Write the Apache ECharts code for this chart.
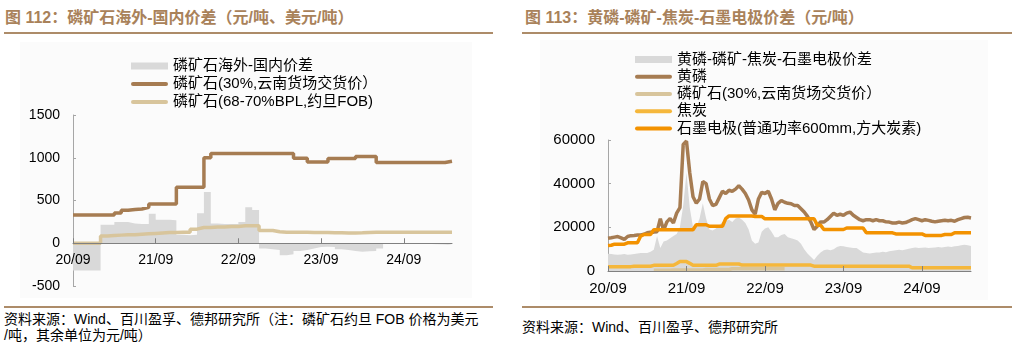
<!doctype html>
<html>
<head>
	<meta charset="UTF-8">
	<title>磷矿石价差</title>
	<script src="https://cdn.jsdelivr.net/npm/echarts@6/dist/echarts.min.js"></script>
	<style>
		body {
			margin: 0;
			width: 1018px;
			height: 354px;
			position: relative;
			overflow: hidden;
			background: #fff;
			font-family: "Liberation Sans", "Noto Sans CJK SC", sans-serif;
		}
		.title {
			position: absolute;
			top: 7px;
			font-size: 16px;
			line-height: 22px;
			font-weight: bold;
			color: #a9825a;
			white-space: nowrap;
		}
		.rule {
			position: absolute;
			height: 2px;
			background: #ad8c69;
		}
		.box {
			position: absolute;
			background: #fbfbfb;
		}
		.chart {
			position: absolute;
			top: 38px;
			height: 265px;
		}
		.note {
			position: absolute;
			font-size: 14px;
			line-height: 16px;
			color: #000;
			white-space: nowrap;
		}
	</style>
</head>
<body>
<!-- 左图 -->
<div class="title" style="left:5px">图 112：磷矿石海外-国内价差（元/吨、美元/吨）</div>
<div class="rule" style="left:4px;width:489px;top:32px"></div>
<div class="box" style="left:20px;top:42px;width:452px;height:256px"></div>
<div class="chart" id="chartL" style="left:0;width:500px"></div>
<div class="rule" style="left:4px;width:489px;top:306px"></div>
<div class="note" style="left:4px;top:311px">资料来源：Wind、百川盈孚、德邦研究所（注：磷矿石约旦 FOB 价格为美元<br>/吨，其余单位为元/吨）</div>

<!-- 右图 -->
<div class="title" style="left:525px">图 113：黄磷-磷矿-焦炭-石墨电极价差（元/吨）</div>
<div class="rule" style="left:522px;width:490px;top:32px"></div>
<div class="box" style="left:540px;top:40px;width:448px;height:260px"></div>
<div class="chart" id="chartR" style="left:505px;width:513px"></div>
<div class="rule" style="left:522px;width:490px;top:306px"></div>
<div class="note" style="left:522px;top:319px">资料来源：Wind、百川盈孚、德邦研究所</div>

<script>
	// 类目：左图按月，右图按半月（2020-09 ~ 2025-04）
	var months = [];
	var halfMonths = [];
	for (var k = 0; k < 56; k++) {
		var y = 2020 + Math.floor((8 + k) / 12);
		var m = (8 + k) % 12 + 1;
		var s = y + '-' + (m < 10 ? '0' + m : m);
		months.push(s);
		halfMonths.push(s + '-01', s + '-16');
	}

	// 左图数据
	var spreadL = [-320, -320, -320, -320, 215, 215,
		250, 250, 230, 225, 225, 345,
		275, 275, 270, 100, 95, 100,
		350, 600, 230, 225, 225, 225,
		250, 420, 390, -60, -70, -80,
		-140, -130, -90, -80, -60, -45,
		-40, -45, -70, -80, -90, -100,
		-95, -90, -60, -10, -8, -8,
		-10, -8, -10, -10, -12, -15,
		-20, -22];
	var oreYunnan = [330, 330, 330, 330, 330, 330,
		355, 385, 395, 400, 420, 460,
		460, 460, 460, 655, 655, 655,
		655, 1000, 1050, 1050, 1050, 1050,
		1050, 1050, 1050, 1050, 1050, 1050,
		1050, 1050, 995, 995, 950, 950,
		950, 990, 990, 990, 990, 1015,
		1015, 1015, 945, 945, 945, 945,
		945, 945, 945, 945, 945, 945,
		960, 965];
	var oreJordan = [0, 0, 0, 0, 85, 90,
		95, 100, 100, 105, 110, 115,
		120, 125, 125, 130, 130, 165,
		185, 185, 190, 190, 195, 195,
		205, 205, 205, 150, 150, 135,
		130, 130, 130, 128, 125, 125,
		125, 122, 122, 120, 120, 122,
		125, 128, 130, 130, 130, 130,
		130, 130, 128, 128, 128, 128,
		128, 128];

	// 右图数据
	var spreadR = [7900, 7800, 7600, 7500, 7600, 7800, 7500, 7600, 7800, 8000, 8200, 8300,
		8300, 8800, 9700, 16000, 10500, 13500, 14000, 15000, 16000, 17000, 20000, 30000,
		45000, 29000, 20000, 20000, 24000, 31000, 24000, 19000, 18500, 19500, 21000, 22400,
		23000, 23500, 22500, 24000, 24500, 23500, 22000, 19000, 14000, 12500, 13000, 18000,
		19500, 20000, 18000, 15500, 15500, 16500, 17000, 15500, 15000, 14500, 14000, 12500,
		10000, 8000, 6500, 5000, 7000, 8500, 9500, 9800, 9500, 10000, 11000, 11500,
		11300, 11000, 10800, 10500, 10500, 9500, 8500, 8200, 8000, 8300, 8500, 8500,
		8800, 8600, 9000, 9300, 9500, 9700, 9500, 9800, 10200, 10500, 10800, 10500,
		10700, 10800, 10500, 10600, 10800, 11000, 10800, 11000, 11200, 11000, 11300, 11500,
		11800, 12000, 11800, 11500];
	var yellowP = [15000, 15200, 15500, 15800, 15200, 14500, 15800, 16200, 16300, 16500, 16500, 16800,
		17500, 17800, 17800, 18000, 24000, 18600, 22500, 24000, 22000, 26500, 29000, 58000,
		59500, 45000, 34000, 31000, 33000, 41000, 40000, 33000, 30000, 30500, 33500, 36500,
		35500, 37000, 36500, 37500, 39000, 37500, 35500, 32500, 28000, 26000, 33000, 36000,
		35500, 36500, 33000, 28000, 31000, 32300, 31500, 31000, 30800, 30000, 30000, 28500,
		27000, 25000, 22500, 19000, 20500, 22500, 22400, 23500, 25000, 26500, 25500, 26000,
		25500, 26500, 27000, 25500, 24500, 23500, 23000, 23500, 23500, 23000, 23500, 23000,
		23000, 22500, 22400, 22000, 22000, 22400, 22000, 22200, 22800, 23500, 24000, 23500,
		23000, 23500, 23200, 22800, 22500, 22800, 23000, 23200, 23000, 23200, 22800, 23500,
		24000, 24500, 24600, 24300];
	var oreR = [null, null, null, null, null, null, null, null, null, null, null, null,
		null, null, 385, 385, 395, 395, 400, 400, 420, 420, 460, 460,
		460, 460, 460, 460, 460, 460, 655, 655, 655, 655, 655, 655,
		655, 655, 1000, 1050, 1050, 1050, 1050, 1050, 1050, 1050, 1050, 1050,
		1050, 1050, 1050, 1050, 1050, 1050, 1050, null, null, null, null, null,
		null, null, null, null, null, null, null, null, null, null, null, null,
		null, null, null, null, null, null, null, null, null, null, null, null,
		null, null, null, null, null, null, null, null, null, null, null, null,
		null, null, null, null, null, null, null, null, null, null, null, null,
		null, null, null, null];
	var coke = [2000, 2000, 2000, 2000, 2000, 2000, 2000, 2000, 2200, 2200, 2200, 2200,
		2200, 2200, 2600, 2600, 2600, 2600, 2600, 2600, 2600, 3400, 4300, 4300,
		4300, 3500, 2600, 2600, 2600, 2600, 2600, 2600, 2600, 2600, 3200, 3200,
		3200, 3200, 3200, 3200, 3200, 2700, 2700, 2700, 2700, 2700, 2700, 2700,
		2700, 2700, 2700, 2700, 2700, 2700, 2700, 2700, 2700, 2700, 2700, 2700,
		2700, 2700, 2700, 2200, 2200, 2200, 2200, 2200, 2200, 2200, 2200, 2200,
		2200, 2200, 2200, 2200, 2200, 2200, 2200, 2200, 2200, 2200, 2200, 2200,
		2200, 2200, 2200, 2200, 2200, 2200, 2200, 2200, 2200, 1500, 1500, 1500,
		1500, 1500, 1500, 1500, 1500, 1500, 1500, 1500, 1500, 1500, 1500, 1500,
		1500, 1500, 1500, 1500];
	var graphite = [11700, 11800, 12300, 12300, 12300, 12300, 12900, 12900, 12900, 12900, 16000, 16700,
		16700, 16700, 18900, 18900, 18900, 18900, 18900, 18900, 18900, 18900, 18900, 18900,
		18900, 18900, 18900, 21200, 21200, 21200, 21200, 20500, 20500, 20500, 20500, 20500,
		24000, 25200, 25200, 25200, 25200, 25200, 25200, 25200, 25200, 25000, 25000, 25000,
		23900, 23900, 23900, 23900, 23900, 23900, 23900, 23900, 23900, 23900, 23900, 23900,
		23900, 23900, 23900, 23900, 21000, 21000, 19000, 19000, 19000, 19000, 19000, 19000,
		19000, 19700, 19700, 19700, 19700, 19700, 19700, 17500, 17500, 17500, 17500, 17500,
		17500, 17500, 17500, 17500, 17000, 17000, 17000, 17000, 17000, 17000, 17000, 17000,
		17000, 16300, 16300, 16300, 16300, 16300, 16300, 16700, 16700, 16700, 17500, 17500,
		17500, 17500, 17500, 17500];

	var FONT = '"Liberation Sans", "Noto Sans CJK SC", sans-serif';
	var BROWN = '#a67c52', TAN = '#d8c59c', GRAY = '#d9d9d9';
	// 图例里的线形图标（圆头粗线）
	var LINE_ICON = 'path://M2,0 H35 A2,2 0 0 1 35,4 H2 A2,2 0 0 1 2,0 Z';

	function ymLabel(v) {
		return v.slice(2, 4) + '/' + v.slice(5, 7);
	}
	function plain(v) {
		return String(v);
	}

	// 左图
	var chartL = echarts.init(document.getElementById('chartL'));
	chartL.setOption({
		animation: false,
		legend: {
			orient: 'vertical',
			left: 126,
			top: 14,
			itemWidth: 37,
			itemHeight: 7,
			itemGap: 0,
			textStyle: {fontFamily: FONT, fontSize: 15, color: '#000', lineHeight: 18},
			data: [
				{name: '磷矿石海外-国内价差', icon: 'rect'},
				{name: '磷矿石(30%,云南货场交货价）', icon: LINE_ICON},
				{name: '磷矿石(68-70%BPL,约旦FOB)', icon: LINE_ICON}
			]
		},
		grid: {left: 73, top: 77, width: 379, height: 171, outerBoundsMode: 'none'},
		xAxis: {
			type: 'category',
			data: months,
			boundaryGap: false,
			z: 10,
			// 轴线放在 0 值处（-500~1500 的 1/4 高度）
			axisLine: {onZero: false, lineStyle: {color: '#808080'}},
			offset: -42.75,
			axisTick: {inside: true, length: 5, interval: function (i) { return i % 12 === 0; }, lineStyle: {color: '#808080'}},
			axisLabel: {
				interval: function (i) { return i % 12 === 0; },
				formatter: ymLabel,
				margin: 10,
				fontFamily: FONT, fontSize: 14, color: '#000'
			}
		},
		yAxis: {
			type: 'value',
			min: -500, max: 1500, interval: 500,
			splitLine: {show: false},
			axisLine: {show: true, lineStyle: {color: '#a6a6a6'}},
			axisTick: {show: true, inside: true, length: 3, lineStyle: {color: '#a6a6a6'}},
			axisLabel: {margin: 13, formatter: plain, fontFamily: FONT, fontSize: 14, color: '#000'}
		},
		series: [{
			name: '磷矿石海外-国内价差',
			type: 'line',
			step: 'end',
			symbol: 'none',
			data: spreadL,
			itemStyle: {color: GRAY},
			lineStyle: {width: 0},
			areaStyle: {color: GRAY, opacity: 1}
		}, {
			name: '磷矿石(30%,云南货场交货价）',
			type: 'line',
			step: 'end',
			symbol: 'none',
			data: oreYunnan,
			itemStyle: {color: BROWN},
			lineStyle: {width: 3.5, color: BROWN}
		}, {
			name: '磷矿石(68-70%BPL,约旦FOB)',
			type: 'line',
			step: 'end',
			symbol: 'none',
			data: oreJordan,
			itemStyle: {color: TAN},
			lineStyle: {width: 3.5, color: TAN}
		}]
	});

	// 右图
	var chartR = echarts.init(document.getElementById('chartR'));
	chartR.setOption({
		animation: false,
		legend: {
			orient: 'vertical',
			left: 125,
			top: 8,
			itemWidth: 37,
			itemHeight: 7,
			itemGap: 0,
			textStyle: {fontFamily: FONT, fontSize: 15, color: '#000', lineHeight: 17.2},
			data: [
				{name: '黄磷-磷矿-焦炭-石墨电极价差', icon: 'rect'},
				{name: '黄磷', icon: LINE_ICON},
				{name: '磷矿石(30%,云南货场交货价）', icon: LINE_ICON},
				{name: '焦炭', icon: LINE_ICON},
				{name: '石墨电极(普通功率600mm,方大炭素)', icon: LINE_ICON}
			]
		},
		grid: {left: 103, top: 102, width: 363, height: 131, outerBoundsMode: 'none'},
		xAxis: {
			type: 'category',
			data: halfMonths,
			boundaryGap: false,
			z: 10,
			axisLine: {lineStyle: {color: '#808080'}},
			axisTick: {inside: true, length: 5, interval: function (i) { return i % 24 === 0; }, lineStyle: {color: '#808080'}},
			axisLabel: {
				interval: function (i) { return i % 24 === 0; },
				formatter: ymLabel,
				margin: 10,
				fontFamily: FONT, fontSize: 15, color: '#000'
			}
		},
		yAxis: {
			type: 'value',
			min: 0, max: 60000, interval: 20000,
			splitLine: {show: false},
			axisLine: {show: true, lineStyle: {color: '#a6a6a6'}},
			axisTick: {show: true, inside: true, length: 3, lineStyle: {color: '#a6a6a6'}},
			axisLabel: {margin: 13, formatter: plain, fontFamily: FONT, fontSize: 15, color: '#000'}
		},
		series: [{
			name: '黄磷-磷矿-焦炭-石墨电极价差',
			type: 'line',
			symbol: 'none',
			data: spreadR,
			itemStyle: {color: GRAY},
			lineStyle: {width: 0},
			areaStyle: {color: GRAY, opacity: 1}
		}, {
			name: '黄磷',
			type: 'line',
			symbol: 'none',
			data: yellowP,
			itemStyle: {color: BROWN},
			lineStyle: {width: 3.5, color: BROWN}
		}, {
			name: '磷矿石(30%,云南货场交货价）',
			type: 'line',
			symbol: 'none',
			data: oreR,
			itemStyle: {color: TAN},
			lineStyle: {width: 3.5, color: TAN}
		}, {
			name: '焦炭',
			type: 'line',
			symbol: 'none',
			data: coke,
			itemStyle: {color: '#f5b73b'},
			lineStyle: {width: 3.5, color: '#f5b73b'}
		}, {
			name: '石墨电极(普通功率600mm,方大炭素)',
			type: 'line',
			symbol: 'none',
			data: graphite,
			itemStyle: {color: '#f39200'},
			lineStyle: {width: 3.5, color: '#f39200'}
		}]
	});
</script>
</body>
</html>
